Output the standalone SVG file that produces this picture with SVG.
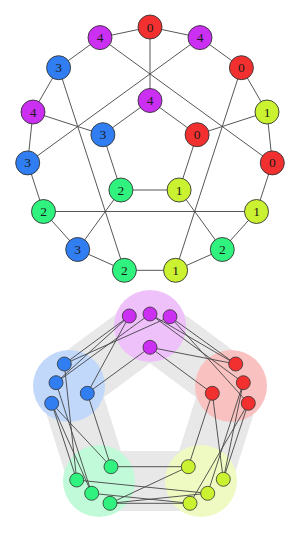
<svg xmlns="http://www.w3.org/2000/svg" width="300" height="534" viewBox="0 0 300 534">
<style>
.e{stroke:#444;stroke-width:0.9;fill:none}
.n circle{stroke:#333;stroke-width:0.9}
.s circle{stroke:#333;stroke-width:0.8}
.n text{font-family:"Liberation Serif","DejaVu Serif",serif;font-size:13.5px;text-anchor:middle;fill:#1a1a1a}
.c0{fill:#f23030}.c1{fill:#cbf230}.c2{fill:#30f27e}.c3{fill:#307ef2}.c4{fill:#cb30f2}
.band{fill:none;stroke:#e8e8e8;stroke-width:60;stroke-linejoin:round}
</style>
<rect width="300" height="534" fill="#fff"/>
<!-- top drawing connectors -->
<g id="top-edges" class="e">
<polyline points="150,27 200,37.6 241.4,67.7 267,112 272.3,162.9 256.5,211.5 222.3,249.5 175.6,270.3 124.4,270.3 77.7,249.5 43.5,211.5 27.7,162.9 33,112 58.6,67.7 100,37.6 150,27"/>
<polygon points="150,100.5 197.1,134.7 179.1,190 120.9,190 102.9,134.7"/>
<line x1="150" y1="27" x2="150" y2="100.5"/>
<line x1="200" y1="37.6" x2="27.7" y2="162.9"/>
<line x1="241.4" y1="67.7" x2="175.6" y2="270.3"/>
<line x1="267" y1="112" x2="197.1" y2="134.7"/>
<line x1="272.3" y1="162.9" x2="100" y2="37.6"/>
<line x1="256.5" y1="211.5" x2="43.5" y2="211.5"/>
<line x1="222.3" y1="249.5" x2="179.1" y2="190"/>
<line x1="77.7" y1="249.5" x2="120.9" y2="190"/>
<line x1="124.4" y1="270.3" x2="58.6" y2="67.7"/>
<line x1="33" y1="112" x2="102.9" y2="134.7"/>
</g>
<g id="t0" class="n"><circle class="c0" cx="150" cy="27" r="12"/><text x="150" y="31.5">0</text></g>
<g id="t1" class="n"><circle class="c4" cx="200" cy="37.6" r="12"/><text x="200" y="42.1">4</text></g>
<g id="t2" class="n"><circle class="c0" cx="241.4" cy="67.7" r="12"/><text x="241.4" y="72.2">0</text></g>
<g id="t3" class="n"><circle class="c1" cx="267" cy="112" r="12"/><text x="267" y="116.5">1</text></g>
<g id="t4" class="n"><circle class="c0" cx="272.3" cy="162.9" r="12"/><text x="272.3" y="167.4">0</text></g>
<g id="t5" class="n"><circle class="c1" cx="256.5" cy="211.5" r="12"/><text x="256.5" y="216">1</text></g>
<g id="t6" class="n"><circle class="c2" cx="222.3" cy="249.5" r="12"/><text x="222.3" y="254">2</text></g>
<g id="t7" class="n"><circle class="c1" cx="175.6" cy="270.3" r="12"/><text x="175.6" y="274.8">1</text></g>
<g id="t8" class="n"><circle class="c2" cx="124.4" cy="270.3" r="12"/><text x="124.4" y="274.8">2</text></g>
<g id="t9" class="n"><circle class="c3" cx="77.7" cy="249.5" r="12"/><text x="77.7" y="254">3</text></g>
<g id="t10" class="n"><circle class="c2" cx="43.5" cy="211.5" r="12"/><text x="43.5" y="216">2</text></g>
<g id="t11" class="n"><circle class="c3" cx="27.7" cy="162.9" r="12"/><text x="27.7" y="167.4">3</text></g>
<g id="t12" class="n"><circle class="c4" cx="33" cy="112" r="12"/><text x="33" y="116.5">4</text></g>
<g id="t13" class="n"><circle class="c3" cx="58.6" cy="67.7" r="12"/><text x="58.6" y="72.2">3</text></g>
<g id="t14" class="n"><circle class="c4" cx="100" cy="37.6" r="12"/><text x="100" y="42.1">4</text></g>
<g id="ti4" class="n"><circle class="c4" cx="150" cy="100.5" r="12"/><text x="150" y="105">4</text></g>
<g id="ti0" class="n"><circle class="c0" cx="197.1" cy="134.7" r="12"/><text x="197.1" y="139.2">0</text></g>
<g id="ti1" class="n"><circle class="c1" cx="179.1" cy="190" r="12"/><text x="179.1" y="194.5">1</text></g>
<g id="ti2" class="n"><circle class="c2" cx="120.9" cy="190" r="12"/><text x="120.9" y="194.5">2</text></g>
<g id="ti3" class="n"><circle class="c3" cx="102.9" cy="134.7" r="12"/><text x="102.9" y="139.2">3</text></g>
<!-- bottom clustered drawing -->
<polygon class="band" points="150,326 231,386 201,481 99,481 69,386"/>
<circle cx="150" cy="326" r="36" fill="#eec1fa"/>
<circle cx="231" cy="386" r="36" fill="#fac1c1"/>
<circle cx="201" cy="481" r="36" fill="#eefac1"/>
<circle cx="99" cy="481" r="36" fill="#c1fad8"/>
<circle cx="69" cy="386" r="36" fill="#c1d8fa"/>
<g id="bottom-edges" class="e">
<line x1="150" y1="347.3" x2="212.3" y2="393.3"/>
<line x1="212.3" y1="393.3" x2="188.3" y2="466.7"/>
<line x1="188.3" y1="466.7" x2="111" y2="466.7"/>
<line x1="111" y1="466.7" x2="87.3" y2="393.3"/>
<line x1="87.3" y1="393.3" x2="150" y2="347.3"/>
<line x1="235.7" y1="364" x2="150" y2="347.3"/>
<line x1="235.7" y1="364" x2="150" y2="314"/>
<line x1="235.7" y1="364" x2="170" y2="316.7"/>
<line x1="129.3" y1="316" x2="87.3" y2="393.3"/>
<line x1="129.3" y1="316" x2="64.3" y2="364"/>
<line x1="129.3" y1="316" x2="56" y2="382.7"/>
<line x1="51.7" y1="403.3" x2="111" y2="466.7"/>
<line x1="51.7" y1="403.3" x2="76.7" y2="480"/>
<line x1="51.7" y1="403.3" x2="91.7" y2="493.3"/>
<line x1="110" y1="503.3" x2="188.3" y2="466.7"/>
<line x1="110" y1="503.3" x2="207.7" y2="493.3"/>
<line x1="110" y1="503.3" x2="190" y2="503.3"/>
<line x1="223.3" y1="479.3" x2="212.3" y2="393.3"/>
<line x1="223.3" y1="479.3" x2="243.3" y2="382.7"/>
<line x1="223.3" y1="479.3" x2="248.3" y2="403.3"/>
<line x1="150" y1="314" x2="243.3" y2="382.7"/>
<line x1="170" y1="316.7" x2="248.3" y2="403.3"/>
<line x1="243.3" y1="382.7" x2="207.7" y2="493.3"/>
<line x1="248.3" y1="403.3" x2="190" y2="503.3"/>
<line x1="207.7" y1="493.3" x2="76.7" y2="480"/>
<line x1="190" y1="503.3" x2="91.7" y2="493.3"/>
<line x1="76.7" y1="480" x2="64.3" y2="364"/>
<line x1="91.7" y1="493.3" x2="56" y2="382.7"/>
<line x1="64.3" y1="364" x2="170" y2="316.7"/>
<line x1="56" y1="382.7" x2="150" y2="314"/>
</g>
<g id="m1" class="s"><circle class="c4" cx="129.3" cy="316" r="7"/></g>
<g id="m2" class="s"><circle class="c4" cx="150" cy="314" r="7"/></g>
<g id="m3" class="s"><circle class="c4" cx="170" cy="316.7" r="7"/></g>
<g id="mi" class="s"><circle class="c4" cx="150" cy="347.3" r="7"/></g>
<g id="r1" class="s"><circle class="c0" cx="235.7" cy="364" r="7"/></g>
<g id="r2" class="s"><circle class="c0" cx="243.3" cy="382.7" r="7"/></g>
<g id="r3" class="s"><circle class="c0" cx="248.3" cy="403.3" r="7"/></g>
<g id="ri" class="s"><circle class="c0" cx="212.3" cy="393.3" r="7"/></g>
<g id="b1" class="s"><circle class="c3" cx="64.3" cy="364" r="7"/></g>
<g id="b2" class="s"><circle class="c3" cx="56" cy="382.7" r="7"/></g>
<g id="b3" class="s"><circle class="c3" cx="51.7" cy="403.3" r="7"/></g>
<g id="bi" class="s"><circle class="c3" cx="87.3" cy="393.3" r="7"/></g>
<g id="g1" class="s"><circle class="c2" cx="76.7" cy="480" r="7"/></g>
<g id="g2" class="s"><circle class="c2" cx="91.7" cy="493.3" r="7"/></g>
<g id="g3" class="s"><circle class="c2" cx="110" cy="503.3" r="7"/></g>
<g id="gi" class="s"><circle class="c2" cx="111" cy="466.7" r="7"/></g>
<g id="y1" class="s"><circle class="c1" cx="223.3" cy="479.3" r="7"/></g>
<g id="y2" class="s"><circle class="c1" cx="207.7" cy="493.3" r="7"/></g>
<g id="y3" class="s"><circle class="c1" cx="190" cy="503.3" r="7"/></g>
<g id="yi" class="s"><circle class="c1" cx="188.3" cy="466.7" r="7"/></g>
</svg>
